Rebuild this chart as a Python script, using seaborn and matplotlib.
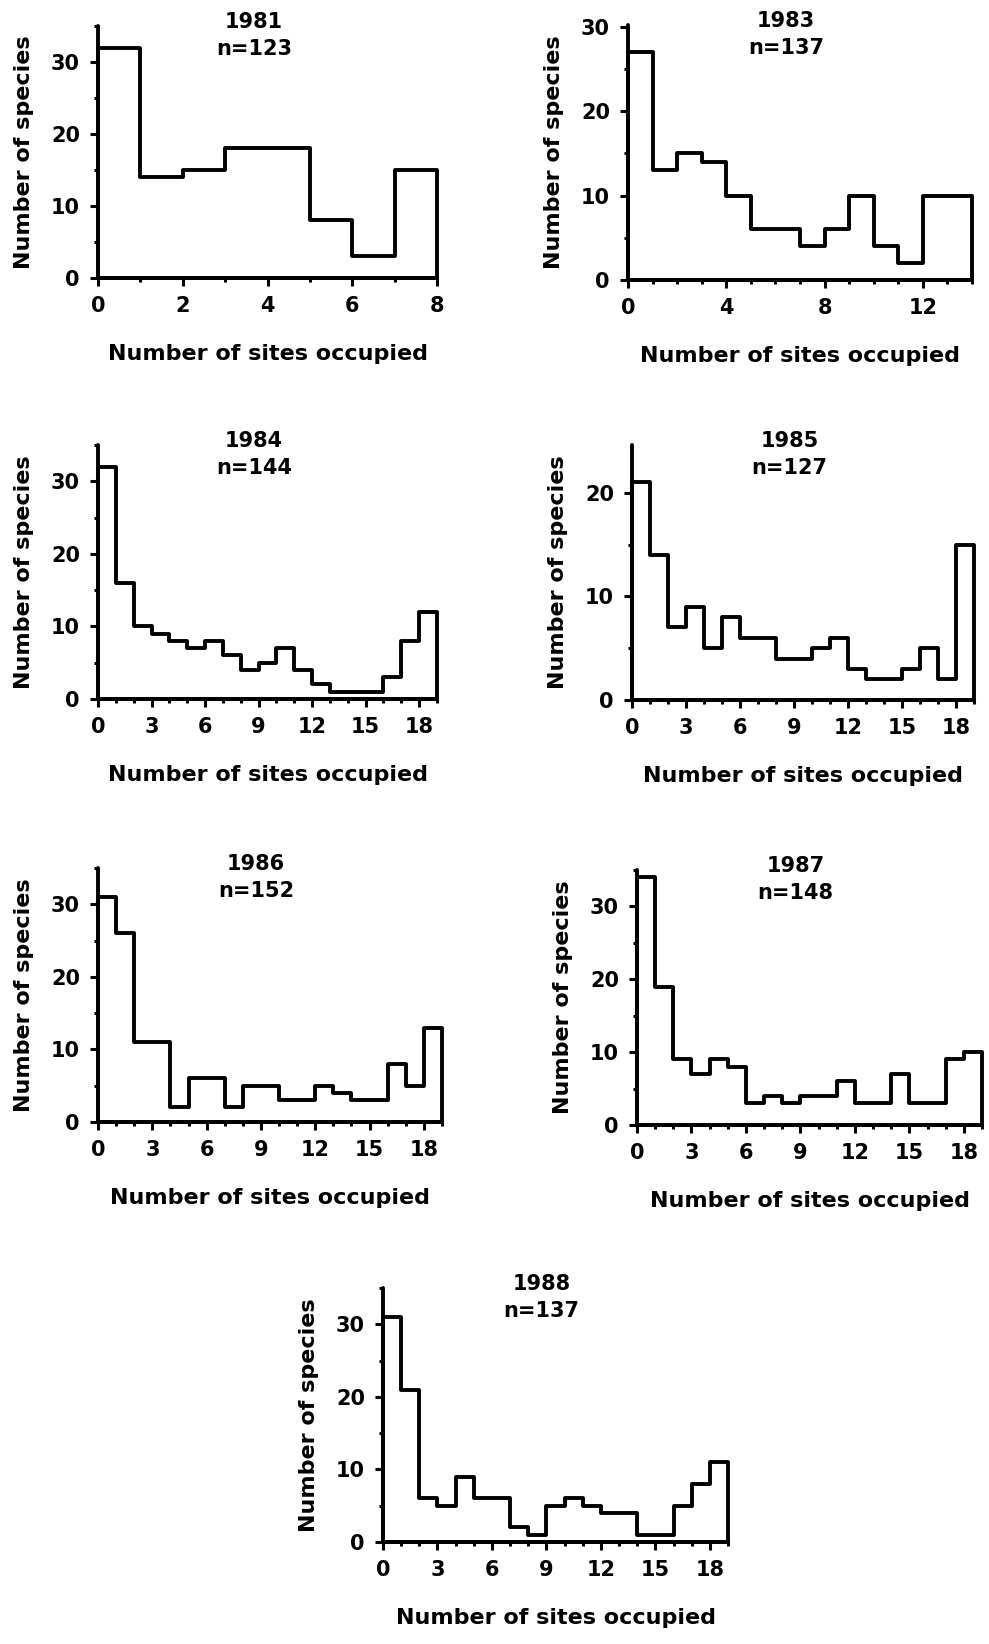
import numpy as np
import matplotlib
matplotlib.use("Agg")
import matplotlib.pyplot as plt
from matplotlib.ticker import MultipleLocator
import seaborn as sns

# Species-occupancy frequency distributions, one panel per survey year
years = ["1981", "1983", "1984", "1985", "1986", "1987", "1988"]
n_species = [123, 137, 144, 127, 152, 148, 137]

counts_1981 = [32, 14, 15, 18, 18, 8, 3, 15]
counts_1983 = [27, 13, 15, 14, 10, 6, 6, 4, 6, 10, 4, 2, 10, 10]
counts_1984 = [32, 16, 10, 9, 8, 7, 8, 6, 4, 5, 7, 4, 2, 1, 1, 1, 3, 8, 12]
counts_1985 = [21, 14, 7, 9, 5, 8, 6, 6, 4, 4, 5, 6, 3, 2, 2, 3, 5, 2, 15]
counts_1986 = [31, 26, 11, 11, 2, 6, 6, 2, 5, 5, 3, 3, 5, 4, 3, 3, 8, 5, 13]
counts_1987 = [34, 19, 9, 7, 9, 8, 3, 4, 3, 4, 4, 6, 3, 3, 7, 3, 3, 9, 10]
counts_1988 = [31, 21, 6, 5, 9, 6, 6, 2, 1, 5, 6, 5, 4, 4, 1, 1, 5, 8, 11]

all_counts = [counts_1981, counts_1983, counts_1984, counts_1985,
              counts_1986, counts_1987, counts_1988]

x_major = [2, 4, 3, 3, 3, 3, 3]
y_top = [35, 30.2, 35, 24.6, 35, 35, 35]

# axes boxes in pixels: left, right, top, bottom
W, H = 989, 1644
boxes = [
    (98, 437, 26, 278),
    (628, 972, 25, 280),
    (98, 437, 445, 699),
    (632, 974, 445, 700),
    (98, 442, 868, 1122),
    (637, 982, 870, 1125),
    (383, 728, 1288, 1542),
]

sns.set_theme(style="ticks")
plt.rcParams["font.family"] = ["DejaVu Sans"]
plt.rcParams["font.weight"] = "bold"
plt.rcParams["text.color"] = "black"
plt.rcParams["axes.labelcolor"] = "black"

fig = plt.figure(figsize=(W / 100, H / 100), dpi=100)
LW = 2.8

for year, n, counts, xm, yt, (l, r, t, b) in zip(
        years, n_species, all_counts, x_major, y_top, boxes):
    ax = fig.add_axes([l / W, 1 - b / H, (r - l) / W, (b - t) / H])
    nb = len(counts)
    centers = [i + 0.5 for i in range(nb)]
    sns.histplot(x=centers, weights=counts, binwidth=1, binrange=(0, nb),
                 element="step", fill=True, color="black",
                 facecolor="white", edgecolor="black", linewidth=LW,
                 alpha=1, ax=ax)
    for coll in ax.collections:
        coll.set_clip_on(False)
        coll.set_joinstyle("round")
    ax.set_xlim(0, nb)
    ax.set_ylim(0, yt)
    ax.xaxis.set_major_locator(MultipleLocator(xm))
    ax.xaxis.set_minor_locator(MultipleLocator(1))
    ax.yaxis.set_major_locator(MultipleLocator(10))
    ax.yaxis.set_minor_locator(MultipleLocator(5))
    sns.despine(ax=ax)
    for s in ("left", "bottom"):
        ax.spines[s].set_linewidth(LW)
        ax.spines[s].set_color("black")
        ax.spines[s].set_capstyle("round")
    ax.tick_params(which="major", length=6, width=2.2, pad=7,
                   labelsize=15, colors="black")
    ax.tick_params(which="minor", length=3, width=2.2, colors="black")
    for lab in ax.get_xticklabels() + ax.get_yticklabels():
        lab.set_fontweight("bold")
    ax.set_xlabel("Number of sites occupied", fontsize=16,
                  fontweight="bold", labelpad=20, color="black")
    ax.set_ylabel("Number of species", fontsize=16,
                  fontweight="bold", labelpad=12, color="black")
    ax.text(0.46, 1.015, year, transform=ax.transAxes, ha="center",
            va="center", fontsize=15, fontweight="bold", color="black")
    ax.text(0.46, 0.91, f"n={n}", transform=ax.transAxes, ha="center",
            va="center", fontsize=15, fontweight="bold", color="black")
    ax.set_facecolor("white")

fig.patch.set_facecolor("white")
fig.savefig("out.png", dpi=100, facecolor="white")
